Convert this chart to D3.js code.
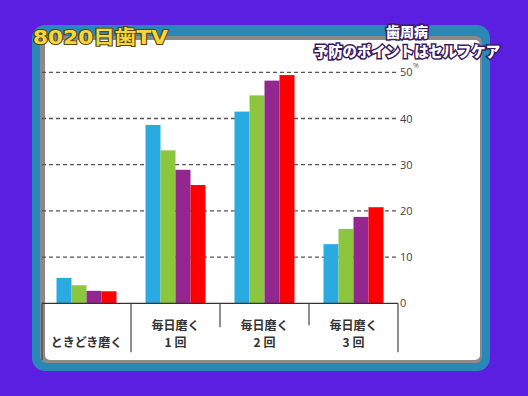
<!DOCTYPE html>
<html>
<head>
<meta charset="utf-8">
<script src="https://cdn.jsdelivr.net/npm/d3@7"></script>
<style>
  body { margin: 0; background: #5a1fe0; }
  svg { display: block; }
</style>
</head>
<body>
<div id="chart"></div>
<script>
// data (%)
var categories = ["ときどき磨く", "毎日磨く|1 回", "毎日磨く|2 回", "毎日磨く|3 回"];
var seriesKeys = ["s1", "s2", "s3", "s4"];
var s1 = [5.5, 38.6, 41.5, 12.8];
var s2 = [3.9, 33.1, 45.0, 16.1];
var s3 = [2.7, 28.9, 48.2, 18.7];
var s4 = [2.6, 25.6, 49.4, 20.8];
var yTicks = [0, 10, 20, 30, 40, 50];
var colors = ["#29abe2", "#8cc63f", "#93278f", "#ff0000"];

var W = 528, H = 396;
var svg = d3.select("#chart").append("svg")
    .attr("width", W).attr("height", H);

// background + frame
svg.append("rect").attr("width", W).attr("height", H).attr("fill", "#5a1fe0");
svg.append("rect")
    .attr("x", 32).attr("y", 25).attr("width", 458).attr("height", 346)
    .attr("rx", 13).attr("fill", "#2a88b8");
svg.append("rect")
    .attr("x", 40).attr("y", 36).attr("width", 442).attr("height", 327)
    .attr("rx", 6).attr("fill", "#8a8a8a");
svg.append("rect")
    .attr("x", 45).attr("y", 40).attr("width", 435).attr("height", 320)
    .attr("rx", 5).attr("fill", "#ffffff");

// scales
var x = d3.scaleBand().domain(categories).range([42, 398]).padding(0);
var x1 = d3.scaleBand().domain(seriesKeys).range([0, 60]);
var y = d3.scaleLinear().domain([0, 50]).range([303.3, 72.3]);

var rows = categories.map(function(c, i) {
    return {cat: c, vals: [s1[i], s2[i], s3[i], s4[i]]};
});

// grid lines
svg.append("g").selectAll("line")
    .data(yTicks.filter(function(d) { return d > 0; }))
    .enter().append("line")
        .attr("x1", 42).attr("x2", 397)
        .attr("y1", function(d) { return y(d); })
        .attr("y2", function(d) { return y(d); })
        .attr("stroke", "#555")
        .attr("stroke-width", 1.3)
        .attr("stroke-dasharray", "4,3");

// right axis labels
svg.append("g").selectAll("text")
    .data(yTicks)
    .enter().append("text")
        .attr("x", 400)
        .attr("y", function(d) { return y(d) + 4; })
        .style("font-family", "'Open Sans', sans-serif")
        .style("font-size", "11px")
        .attr("fill", "#444")
        .text(function(d) { return d; });
svg.append("text")
    .attr("x", 413).attr("y", 68)
    .style("font-family", "'Open Sans', sans-serif")
    .style("font-size", "7px")
    .attr("fill", "#555")
    .text("%");

// bars
var groups = svg.append("g").selectAll("g")
    .data(rows)
    .enter().append("g")
        .attr("transform", function(d) {
            return "translate(" + (x(d.cat) + x.bandwidth() / 2 - 30) + ",0)";
        });
groups.selectAll("rect")
    .data(function(d) { return d.vals.map(function(v, i) { return {key: seriesKeys[i], v: v, i: i}; }); })
    .enter().append("rect")
        .attr("x", function(d) { return x1(d.key); })
        .attr("width", x1.bandwidth())
        .attr("y", function(d) { return y(d.v); })
        .attr("height", function(d) { return y(0) - y(d.v); })
        .attr("fill", function(d) { return colors[d.i]; });

// baseline and category dividers
svg.append("line")
    .attr("x1", 42).attr("x2", 398)
    .attr("y1", y(0)).attr("y2", y(0))
    .attr("stroke", "#333").attr("stroke-width", 1.2);
var dividers = [
    {x: 42, len: 57}, {x: x(categories[1]), len: 49},
    {x: x(categories[2]), len: 24}, {x: x(categories[3]), len: 22},
    {x: 398, len: 49}
];
svg.append("g").selectAll("line")
    .data(dividers)
    .enter().append("line")
        .attr("x1", function(d) { return d.x; })
        .attr("x2", function(d) { return d.x; })
        .attr("y1", y(0))
        .attr("y2", function(d) { return y(0) + d.len; })
        .attr("stroke", "#444").attr("stroke-width", 1.2);

// category labels (| splits the two lines)
var labels = svg.append("g").selectAll("text")
    .data(categories)
    .enter().append("text")
        .attr("text-anchor", "middle")
        .attr("transform", function(d) {
            return "translate(" + (x(d) + x.bandwidth() / 2) + ",0)";
        })
        .style("font-family", "'Noto Sans CJK JP', sans-serif")
        .style("font-size", "12px")
        .style("font-weight", "bold")
        .attr("fill", "#333");
labels.each(function(d) {
    var parts = d.split("|");
    var t = d3.select(this);
    if (parts.length === 1) {
        t.append("tspan").attr("x", 0).attr("y", 347).text(parts[0]);
    } else {
        t.append("tspan").attr("x", 0).attr("y", 330).text(parts[0]);
        t.append("tspan").attr("x", 0).attr("y", 347).text(parts[1]);
    }
});

// titles
svg.append("text")
    .attr("x", 33).attr("y", 44)
    .attr("textLength", 135)
    .attr("lengthAdjust", "spacingAndGlyphs")
    .style("font-family", "'DejaVu Sans', 'Noto Sans CJK JP', sans-serif")
    .style("font-size", "19px")
    .style("font-weight", "bold")
    .attr("fill", "#f2d643")
    .attr("stroke", "#5a4400")
    .attr("stroke-width", 2)
    .attr("paint-order", "stroke")
    .text("8020日歯TV");

svg.append("text")
    .attr("x", 407).attr("y", 37)
    .attr("text-anchor", "middle")
    .style("font-family", "'Noto Sans CJK JP', sans-serif")
    .style("font-size", "14px")
    .style("font-weight", "900")
    .attr("fill", "#ffffff")
    .attr("stroke", "#3a1a60")
    .attr("stroke-width", 3)
    .attr("paint-order", "stroke")
    .text("歯周病");

svg.append("text")
    .attr("x", 314).attr("y", 57)
    .attr("textLength", 186)
    .attr("lengthAdjust", "spacingAndGlyphs")
    .style("font-family", "'Noto Sans CJK JP', sans-serif")
    .style("font-size", "15px")
    .style("font-weight", "900")
    .attr("fill", "#ffffff")
    .attr("stroke", "#3a1a60")
    .attr("stroke-width", 3)
    .attr("paint-order", "stroke")
    .text("予防のポイントはセルフケア");
</script>
</body>
</html>
